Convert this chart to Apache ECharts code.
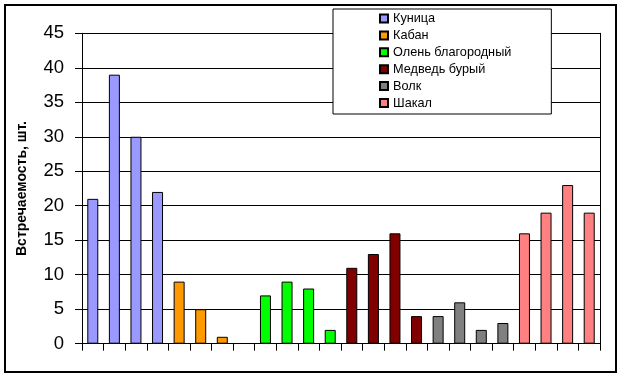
<!DOCTYPE html>
<html>
<head>
<meta charset="utf-8">
<script src="https://cdn.jsdelivr.net/npm/echarts@6/dist/echarts.min.js"></script>
<style>
html,body{margin:0;padding:0;background:#fff;}
#c{width:624px;height:379px;}
</style>
</head>
<body>
<div id="c"></div>
<script>
// Data
var seriesNames = ['Куница', 'Кабан', 'Олень благородный', 'Медведь бурый', 'Волк', 'Шакал'];
var kunitsa = [21, 39, 30, 22];
var kaban = [9, 5, 1, null];
var olen = [7, 9, 8, 2];
var medved = [11, 13, 16, 4];
var volk = [4, 6, 2, 3];
var shakal = [16, 19, 23, 19];
var yTicks = [0, 5, 10, 15, 20, 25, 30, 35, 40, 45];
var yTitle = 'Встречаемость, шт.';
var colors = ['#9999FF', '#FF9900', '#00FF00', '#800000', '#808080', '#FF8080'];

var groups = [kunitsa, kaban, olen, medved, volk, shakal];
var slotsPer = 4;
var total = groups.length * slotsPer;
var categories = [];
for (var i = 0; i < total; i++) categories.push(String(i + 1));

var font = 'Arial, "Liberation Sans", sans-serif';

var series = groups.map(function (vals, g) {
  var data = [];
  for (var i = 0; i < total; i++) {
    var k = i - g * slotsPer;
    data.push(k >= 0 && k < slotsPer && vals[k] != null ? vals[k] : '-');
  }
  return {
    name: seriesNames[g],
    type: 'bar',
    stack: 'all',
    barWidth: 11,
    data: data,
    itemStyle: { color: colors[g], borderColor: '#000', borderWidth: 1 },
    emphasis: { disabled: true }
  };
});

var chart = echarts.init(document.getElementById('c'), null, { renderer: 'canvas' });
chart.setOption({
  animation: false,
  backgroundColor: '#fff',
  grid: { left: 82, right: 24, top: 33.3, bottom: 35.3, containLabel: false },
  legend: {
    orient: 'vertical',
    left: 333,
    top: 9,
    icon: 'rect',
    itemWidth: 8,
    itemHeight: 8,
    itemGap: 3.9,
    padding: [3, 40, 4.5, 46],
    backgroundColor: '#fff',
    borderColor: '#000',
    borderWidth: 1,
    textStyle: { fontFamily: font, fontSize: 12.7, color: '#000' },
    data: seriesNames
  },
  xAxis: {
    type: 'category',
    data: categories,
    boundaryGap: true,
    axisLine: { show: true, lineStyle: { color: '#000', width: 1 } },
    axisTick: { show: true, length: 7, inside: false, lineStyle: { color: '#000' } },
    axisLabel: { show: false },
    splitLine: { show: false }
  },
  yAxis: [{
    type: 'value',
    min: 0,
    max: 45,
    interval: 5,
    name: yTitle,
    nameLocation: 'middle',
    nameGap: 53,
    nameTextStyle: { fontFamily: font, fontSize: 14, fontWeight: 'bold', color: '#000' },
    axisLine: { show: true, lineStyle: { color: '#000', width: 1 } },
    axisTick: { show: true, length: 7, lineStyle: { color: '#000' } },
    axisLabel: { fontFamily: font, fontSize: 18.5, color: '#000', margin: 18 },
    splitLine: { show: true, lineStyle: { color: '#000', width: 1 } }
  }, {
    type: 'value',
    min: 0,
    max: 45,
    interval: 5,
    position: 'right',
    axisLine: { show: true, lineStyle: { color: '#000', width: 1 } },
    axisTick: { show: false },
    axisLabel: { show: false },
    splitLine: { show: false }
  }],
  graphic: [{
    type: 'rect',
    shape: { x: 5, y: 5, width: 611, height: 367 },
    style: { fill: null, stroke: '#000', lineWidth: 2 },
    silent: true,
    z: 100
  }],
  series: series
});
</script>
</body>
</html>
